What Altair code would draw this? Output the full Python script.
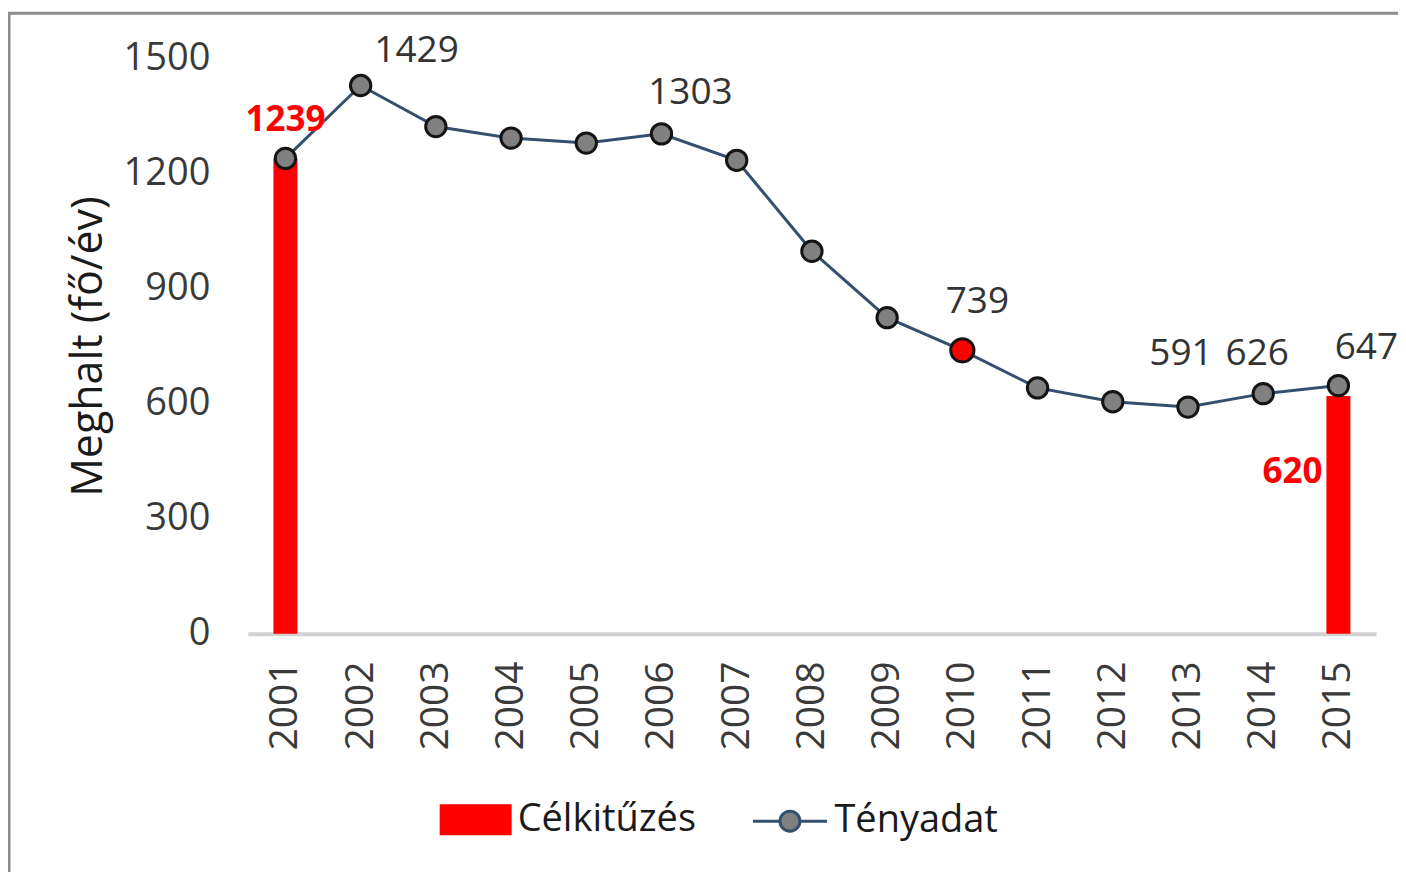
import altair as alt
import pandas as pd

# ---- data ----
years = [str(y) for y in range(2001, 2016)]
actual = [1239, 1429, 1322, 1292, 1279, 1303, 1234, 997, 824, 739, 641, 605, 591, 626, 647]
target_years = ["2001", "2015"]
target_values = [1239, 620]
highlight_year = "2010"
y_ticks = [0, 300, 600, 900, 1200, 1500]
series_target = "Célkitűzés"
series_actual = "Tényadat"

FONT = "Open Sans"

actual_df = pd.DataFrame({"year": years, "value": actual, "series": series_actual})
target_df = pd.DataFrame({"year": target_years, "value": target_values, "series": series_target})

xscale = alt.Scale(type="band", domain=years, paddingInner=0, paddingOuter=0)
yscale = alt.Scale(domain=[0, 1500], nice=False, zero=True)

x_enc = alt.X(
    "year:O", scale=xscale,
    axis=alt.Axis(title=None, labelAngle=270, labelFontSize=39, labelFont=FONT,
                  labelColor="#3a3a3a", ticks=False, domainColor="#d2d2d2",
                  domainWidth=4, labelPadding=27, grid=False),
)
y_enc = alt.Y(
    "value:Q", scale=yscale,
    axis=alt.Axis(title="Meghalt (fő/év)", values=y_ticks, format="d", labelFontSize=38,
                  labelFont=FONT, labelColor="#3a3a3a", ticks=False, domain=False,
                  grid=False, labelPadding=38, titleFont=FONT, titleFontSize=43,
                  titleFontWeight="normal", titleColor="#1a1a1a", titlePadding=13),
)

frame = alt.Chart(pd.DataFrame({"a": [0]})).mark_rect(
    fill="transparent", stroke="#8c8c8c", strokeWidth=3
).encode(x=alt.value(-239), x2=alt.value(1400), y=alt.value(-45), y2=alt.value(900))

bars = alt.Chart(target_df).mark_bar(size=24).encode(
    x=x_enc, y=y_enc,
    fill=alt.Fill("series:N", scale=alt.Scale(domain=[series_target], range=["#ff0000"]),
                  legend=alt.Legend(title=None, orient="none", legendX=192, legendY=726,
                                    symbolType="M-1,-0.43H1V0.43H-1Z", symbolSize=5184,
                                    symbolStrokeWidth=0, labelFont=FONT, labelFontSize=38,
                                    labelColor="#1a1a1a", labelOffset=6, labelLimit=0)),
)

line = alt.Chart(actual_df).mark_line(strokeWidth=3).encode(
    x=x_enc, y=y_enc,
    stroke=alt.Stroke("series:N", scale=alt.Scale(domain=[series_actual], range=["#34506e"]),
                      legend=alt.Legend(title=None, orient="none", legendX=504, legendY=725,
                                        symbolType="M-1,0H-0.27A0.27,0.27,0,1,1,0.27,0A0.27,0.27,0,1,1,-0.27,0M0.27,0H1",
                                        symbolSize=5476, symbolFillColor="#808080",
                                        symbolStrokeWidth=3, labelFont=FONT, labelFontSize=38,
                                        labelColor="#1a1a1a", labelOffset=6, labelLimit=0)),
)

points = alt.Chart(actual_df).transform_filter(
    alt.datum.year != highlight_year
).mark_point(filled=True, size=415, fill="#808080", stroke="#141414", strokeWidth=3, opacity=1).encode(
    x=x_enc, y=y_enc
)
hpoint = alt.Chart(actual_df).transform_filter(
    alt.datum.year == highlight_year
).mark_point(filled=True, size=540, fill="#ff0000", stroke="#141414", strokeWidth=3, opacity=1).encode(
    x=x_enc, y=y_enc
)

# label offsets (style only)
black_offsets = {"2002": (56, -35), "2006": (29, -41), "2010": (15, -48),
                 "2013": (-7, -53), "2014": (-6, -40), "2015": (28, -38)}
labels = []
for yr, (dx, dy) in black_offsets.items():
    labels.append(
        alt.Chart(actual_df).transform_filter(alt.datum.year == yr).mark_text(
            font=FONT, fontSize=37, color="#333333", dx=dx, dy=dy
        ).encode(x=x_enc, y=y_enc, text="value:Q")
    )
red_offsets = {"2001": (0, -38, "center"), "2015": (-16, 76, "right")}
for yr, (dx, dy, al) in red_offsets.items():
    labels.append(
        alt.Chart(target_df).transform_filter(alt.datum.year == yr).mark_text(
            font=FONT, fontSize=35, fontWeight="bold", color="#ff0000", dx=dx, dy=dy, align=al
        ).encode(x=x_enc, y=y_enc, text="value:Q")
    )

chart = alt.layer(frame, bars, line, points, hpoint, *labels).resolve_scale(
    fill="independent", stroke="independent"
).properties(
    width=1129, height=576,
    background="white",
    autosize=alt.AutoSizeParams(type="none"),
    padding={"left": 240, "top": 50, "right": 22, "bottom": 238},
).configure_view(strokeWidth=0)

chart.save("out.html", embed_options={"renderer": "svg", "actions": False})
